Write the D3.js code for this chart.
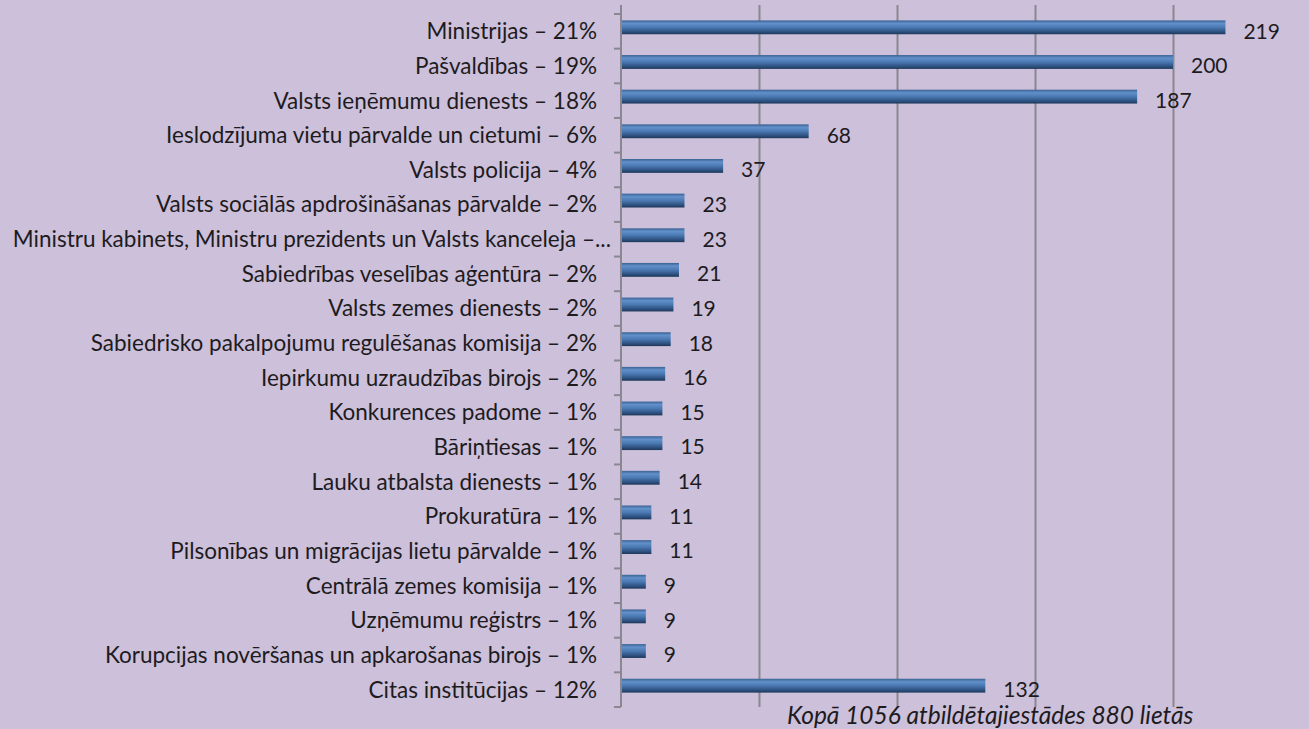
<html>
<head>
  <meta charset="UTF-8">
  <script src="https://d3js.org/d3.v7.min.js"></script>
  <style>
    body { margin: 0; background: #ccc0da; }
    text { font-family: Lato, "Open Sans", sans-serif; fill: #1e1b1e; }
  </style>
</head>
<body>
<svg id="svg1" width="1309" height="729"></svg>
<script>
  const categories = [
    "Ministrijas – 21%",
    "Pašvaldības – 19%",
    "Valsts ieņēmumu dienests – 18%",
    "Ieslodzījuma vietu pārvalde un cietumi – 6%",
    "Valsts policija – 4%",
    "Valsts sociālās apdrošināšanas pārvalde – 2%",
    "Ministru kabinets, Ministru prezidents un Valsts kanceleja –...",
    "Sabiedrības veselības aģentūra – 2%",
    "Valsts zemes dienests – 2%",
    "Sabiedrisko pakalpojumu regulēšanas komisija – 2%",
    "Iepirkumu uzraudzības birojs – 2%",
    "Konkurences padome – 1%",
    "Bāriņtiesas – 1%",
    "Lauku atbalsta dienests – 1%",
    "Prokuratūra – 1%",
    "Pilsonības un migrācijas lietu pārvalde – 1%",
    "Centrālā zemes komisija – 1%",
    "Uzņēmumu reģistrs – 1%",
    "Korupcijas novēršanas un apkarošanas birojs – 1%",
    "Citas institūcijas – 12%"
  ];
  const values = [219, 200, 187, 68, 37, 23, 23, 21, 19, 18, 16, 15, 15, 14, 11, 11, 9, 9, 9, 132];
  const gridTicks = [50, 100, 150, 200];
  const footnote = "Kopā 1056 atbildētajiestādes 880 lietās";

  const svg = d3.select("#svg1");
  const data = categories.map((c, i) => ({ name: c, value: values[i] }));

  const x = d3.scaleLinear([0, 250], [621, 1311]);
  const y = d3.scaleBand(categories, [14, 707]).paddingInner(0.6).paddingOuter(0.3);
  const step = y.step();

  const defs = svg.append("defs");
  const grad = defs.append("linearGradient").attr("id", "barGrad")
    .attr("x1", 0).attr("y1", 0).attr("x2", 0).attr("y2", 1);
  [["0%", "#3b6293"], ["22%", "#6190ca"], ["50%", "#4b79b2"], ["80%", "#2f5383"], ["100%", "#1d3859"]]
    .forEach(s => grad.append("stop").attr("offset", s[0]).attr("stop-color", s[1]));

  // gridlines
  svg.append("g")
    .attr("transform", "translate(0,707)")
    .call(d3.axisBottom(x).tickValues(gridTicks).tickSize(-702).tickFormat(""))
    .call(g => g.select(".domain").remove())
    .call(g => g.selectAll("line").attr("stroke", "#8a8790").attr("stroke-width", 2));

  // category axis + tick marks between bands
  svg.append("line").attr("x1", 621).attr("x2", 621).attr("y1", 5).attr("y2", 707)
    .attr("stroke", "#8a8790").attr("stroke-width", 2);
  const edges = d3.range(categories.length + 1).map(i => 14 + i * step);
  svg.append("g").selectAll("line").data(edges).join("line")
    .attr("x1", 614).attr("x2", 621).attr("y1", d => d).attr("y2", d => d)
    .attr("stroke", "#8a8790").attr("stroke-width", 2);

  // bars
  svg.append("g").selectAll("rect").data(data).join("rect")
    .attr("x", x(0) + 1)
    .attr("y", d => y(d.name) - 4)
    .attr("width", d => x(d.value) - x(0) - 1)
    .attr("height", y.bandwidth())
    .attr("fill", "url(#barGrad)");

  // category labels
  svg.append("g").selectAll("text").data(data).join("text")
    .attr("x", d => d.name.endsWith("...") ? 611 : 597)
    .attr("y", d => y(d.name) + y.bandwidth() / 2)
    .attr("dy", "0.35em")
    .attr("text-anchor", "end")
    .style("font-size", "22.5px")
    .text(d => d.name);

  // value labels
  svg.append("g").selectAll("text").data(data).join("text")
    .attr("x", d => x(d.value) + 18)
    .attr("y", d => y(d.name) + y.bandwidth() / 2)
    .attr("dy", "0.35em")
    .style("font-size", "21px")
    .text(d => d.value);

  svg.append("text")
    .attr("x", 787).attr("y", 724)
    .style("font-size", "24.5px")
    .style("font-style", "italic")
    .text(footnote);
</script>
</body>
</html>
